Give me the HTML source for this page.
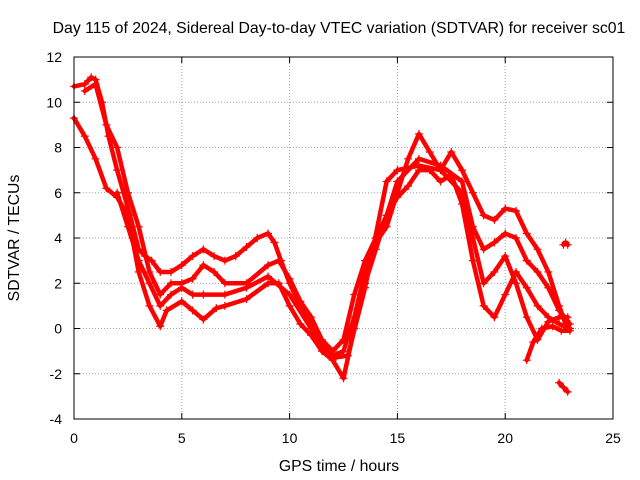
<!DOCTYPE html>
<html><head><meta charset="utf-8"><style>
body{margin:0;background:#fff}
svg{display:block;font-family:"Liberation Sans",sans-serif}
</style></head><body>
<svg id="chart" width="640" height="480">
<rect width="640" height="480" fill="#fff"/>
<text x="339" y="33" text-anchor="middle" font-size="15.8">Day 115 of 2024, Sidereal Day-to-day VTEC variation (SDTVAR) for receiver sc01</text>
<text x="339" y="471" text-anchor="middle" font-size="15.8">GPS time / hours</text>
<text transform="translate(19,238) rotate(-90)" text-anchor="middle" font-size="15.8">SDTVAR / TECUs</text>
<g id="grid"></g><g id="series"></g><g id="axes"></g>
</svg>
<script>
const xTicks=[0,5,10,15,20,25];
const yTicks=[-4,-2,0,2,4,6,8,10,12];
const traceA=[[0,10.7],[0.5,10.8],[0.8,11.1],[1.0,11.0],[1.3,10],[1.6,8.5],[2.0,7],[2.3,6],[2.6,5],[3.0,3.5],[3.3,3.2],[3.6,3.0],[4,2.5],[4.5,2.5],[5,2.8],[5.5,3.2],[6,3.5],[6.5,3.2],[7,3.0],[7.5,3.2],[8,3.6],[8.5,4.0],[9,4.2],[9.3,3.8],[9.6,3],[10,2],[10.5,1],[11,0.2],[11.5,-0.8],[12,-1.2],[12.5,-1.0],[13,0.5],[13.5,2.5],[14,3.8],[14.5,4.5],[15,6],[15.5,7.5],[16,8.6],[16.5,7.8],[17,7.0],[17.5,7.8],[18,7.0],[18.5,6.0],[19,5.0],[19.5,4.8],[20,5.3],[20.5,5.2],[21,4.2],[21.5,3.5],[22,2.5],[22.5,1.0],[22.8,0.2],[23,0]];
const traceB=[[0,9.3],[0.5,8.5],[1,7.5],[1.5,6.2],[2,5.8],[2.5,5.0],[3,2.5],[3.5,1.0],[4,0.1],[4.3,0.8],[5,1.2],[5.5,0.8],[6,0.4],[6.6,0.9],[7,1.0],[8,1.3],[9,2.0],[9.5,2.0],[10,1.0],[10.5,0.2],[11,-0.3],[11.5,-1.0],[12,-1.4],[12.5,-2.2],[13,0],[13.5,2],[14,3.5],[14.5,5],[15,5.8],[15.5,6.3],[16,7],[16.5,7],[17,6.5],[17.5,6.8],[18,5.5],[18.5,3],[19,1.0],[19.5,0.5],[20,1.5],[20.5,2.5],[21,1.8],[21.5,1.0],[22,0.5],[22.5,0.2],[23,0]];
const traceC=[[0.5,10.5],[1,10.8],[1.5,9],[2,8],[2.5,6],[3,4.5],[3.5,2.5],[4,1.5],[4.5,2],[5,2],[5.5,2.2],[6,2.8],[6.5,2.5],[7,2],[8,2],[9,2.8],[9.5,3],[10,2.2],[10.5,1.2],[11,0.5],[11.5,-0.5],[12,-1.0],[12.5,-0.5],[13,1.5],[13.5,3],[14,4],[14.5,5],[15,6.5],[16,7.5],[17,7.2],[18,6.5],[18.5,4.5],[19,3.5],[19.5,3.8],[20,4.2],[20.5,4.0],[21,3.0],[21.5,2.5],[22,1.8],[22.5,0.8],[23,0.2]];
const traceD=[[2,6],[2.5,4.5],[3,3],[3.5,2],[4,1],[4.5,1.5],[5,1.8],[5.5,1.5],[6,1.5],[7,1.5],[8,1.8],[9,2.3],[10,1.5],[11,0],[12,-1.3],[12.7,-1.2],[13.5,1.8],[14.5,6.5],[15,7],[16,7.2],[17,7],[18,6],[18.5,4],[19,2.0],[19.5,2.5],[20,3.2],[20.5,2.0],[21,0.5],[21.5,-0.5],[22,0.3],[22.5,0.5],[22.9,0.5]];
const traceE=[[21,-1.4],[21.3,-0.6],[21.7,0],[22.2,0.1],[22.6,-0.1],[23,-0.1]];
const traceF=[[22.5,-2.4],[22.7,-2.6],[22.9,-2.8]];
const traceG=[[22.7,3.7],[22.8,3.8],[22.9,3.7]];
const traces=[traceA,traceB,traceC,traceD,traceE,traceF,traceG];
const NS='http://www.w3.org/2000/svg';
const L=74,R=613,T=57,B=419;
const sx=v=>L+(v-0)/(25-0)*(R-L);
const sy=v=>B-(v+4)/(12+4)*(B-T);
function mk(tag,attrs,parent){const e=document.createElementNS(NS,tag);for(const k in attrs)e.setAttribute(k,attrs[k]);parent.appendChild(e);return e;}
const grid=document.getElementById('grid'),axes=document.getElementById('axes'),ser=document.getElementById('series');
xTicks.forEach(t=>{
 const g=mk('line',{x1:sx(t),x2:sx(t),y1:T,y2:B,stroke:'#a0a0a0','stroke-dasharray':'1,2','stroke-width':1},grid);
 
 
 const lb=mk('text',{x:sx(t),y:B+24,'text-anchor':'middle','font-size':14},axes);lb.textContent=t;
 
 
 mk('line',{x1:sx(t),x2:sx(t),y1:B,y2:B-6,stroke:'#000'},axes);
 mk('line',{x1:sx(t),x2:sx(t),y1:T,y2:T+6,stroke:'#000'},axes);
});
yTicks.forEach(t=>{
 const g=mk('line',{x1:L,x2:R,y1:sy(t),y2:sy(t),stroke:'#a0a0a0','stroke-dasharray':'1,2','stroke-width':1},grid);
 
 
 const lb=mk('text',{x:L-12,y:sy(t)+5,'text-anchor':'end','font-size':14},axes);lb.textContent=t;
 
 
 mk('line',{x1:L,x2:L+6,y1:sy(t),y2:sy(t),stroke:'#000'},axes);
 mk('line',{x1:R,x2:R-6,y1:sy(t),y2:sy(t),stroke:'#000'},axes);
});
const fr=mk('rect',{x:L,y:T,width:R-L,height:B-T,fill:'none',stroke:'#000'},axes);


traces.forEach((tr,i)=>{
 const g=mk('g',{},ser);
 
 
 mk('polyline',{points:tr.map(p=>sx(p[0])+','+sy(p[1])).join(' '),fill:'none',stroke:'#f00','stroke-width':4.5,'stroke-linejoin':'round','stroke-linecap':'round'},g);
 tr.forEach(p=>{const x=sx(p[0]),y=sy(p[1]);
  mk('path',{d:`M${x-4},${y}H${x+4}M${x},${y-4}V${y+4}`,stroke:'#f00','stroke-width':1.2},g);});
});
</script>
</body></html>
